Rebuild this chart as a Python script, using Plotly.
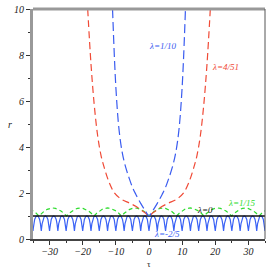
import plotly.graph_objects as go

# ---- data ----
# lambda = 1/10 (blue dashed)
bd_tau = [-11.0, -10.0, -9.0, -8.0, -7.0, -6.0, -5.0, -4.0, -2.5, -1.0, 0.0,
          1.0, 2.5, 4.0, 5.0, 6.0, 7.0, 8.0, 9.0, 10.0, 11.0]
bd_r = [10.0, 6.6, 4.7, 3.7, 3.1, 2.65, 2.25, 1.95, 1.55, 1.2, 1.0,
        1.2, 1.55, 1.95, 2.25, 2.65, 3.1, 3.7, 4.7, 6.6, 10.0]

# lambda = 4/51 (red dashed)
rd_tau = [-18.5, -17.5, -16.5, -15.5, -14.5, -13.5, -12.0, -10.5, -9.0, -8.0, -6.0,
          -5.0, -4.0, -2.5, -1.0, 0.0, 1.0, 2.5, 4.0, 5.0, 6.0, 8.0, 9.0, 10.5,
          12.0, 13.5, 14.5, 15.5, 16.5, 17.5, 18.5]
rd_r = [10.0, 7.6, 5.8, 4.5, 3.65, 3.1, 2.45, 2.02, 1.8, 1.7, 1.57,
        1.5, 1.42, 1.27, 1.12, 1.0, 1.12, 1.27, 1.42, 1.5, 1.57, 1.7, 1.8, 2.02,
        2.45, 3.1, 3.65, 4.5, 5.8, 7.6, 10.0]

# lambda = 1/15 (green dashed): cusps at r=1, arcs up to ~1.35
gr_cusps = [-33.2, -24.9, -16.6, -8.3, 0.0, 8.3, 16.6, 24.9, 33.2]
gr_arc_s = [0.0, 0.1, 0.2, 0.3, 0.4, 0.5, 0.6, 0.7, 0.8, 0.9, 1.0]
gr_arc_r = [1.0, 1.12, 1.22, 1.29, 1.33, 1.35, 1.33, 1.29, 1.22, 1.12, 1.0]

# lambda = -2/5 (blue solid): oscillation between ~0.35 and 1
bs_period = 2.5
bs_starts = [-36.25 + 2.5 * k for k in range(30)]
bs_prof_s = [0.0, 0.15, 0.3, 0.4, 0.46, 0.5, 0.54, 0.6, 0.7, 0.85, 1.0]
bs_prof_r = [1.0, 0.97, 0.85, 0.66, 0.48, 0.35, 0.48, 0.66, 0.85, 0.97, 1.0]

# lambda = 0 (black): r = 1
bk_tau = [-35.0, 35.0]
bk_r = [1.0, 1.0]

x_ticks = [-30, -20, -10, 0, 10, 20, 30]
y_ticks = [0, 2, 4, 6, 8, 10]

# ---- build series ----
gx, gy = [], []
for i in range(len(gr_cusps) - 1):
    a, b = gr_cusps[i], gr_cusps[i + 1]
    for s, r in zip(gr_arc_s, gr_arc_r):
        gx.append(a + (b - a) * s)
        gy.append(r)
for s, r in zip(gr_arc_s, gr_arc_r):
    gx.insert(0, gr_cusps[0] - 8.3 * s)
    gy.insert(0, r)
for s, r in zip(gr_arc_s, gr_arc_r):
    gx.append(gr_cusps[-1] + 8.3 * s)
    gy.append(r)

bx, by = [], []
for st in bs_starts:
    for s, r in zip(bs_prof_s, bs_prof_r):
        bx.append(st + bs_period * s)
        by.append(r)

serif = "Liberation Serif"
fig = go.Figure()
fig.add_trace(go.Scatter(x=bx, y=by, mode="lines",
                         line=dict(color="#3a62f5", width=1.2)))
fig.add_trace(go.Scatter(x=gx, y=gy, mode="lines",
                         line=dict(color="#2edc2e", width=1.2, dash="4px,3px")))
fig.add_trace(go.Scatter(x=bk_tau, y=bk_r, mode="lines",
                         line=dict(color="#111111", width=1.5)))
fig.add_trace(go.Scatter(x=rd_tau, y=rd_r, mode="lines", line_shape="spline",
                         line=dict(color="#f04a36", width=1.2, dash="7px,4px")))
fig.add_trace(go.Scatter(x=bd_tau, y=bd_r, mode="lines", line_shape="spline",
                         line=dict(color="#3a5cf0", width=1.2, dash="9px,4px")))

fnt = dict(family=serif, size=10, style="italic", color="#222")
fig.update_layout(
    width=270, height=270, showlegend=False,
    margin=dict(l=33, r=5, t=9, b=31),
    plot_bgcolor="white", paper_bgcolor="white",
    xaxis=dict(range=[-35, 35], tickvals=x_ticks, ticks="outside", ticklen=4,
               tickcolor="#333", showgrid=False, zeroline=False, automargin=False,
               showline=True, linecolor="#444", linewidth=1.5,
               ticklabelstandoff=-2,
               minor=dict(dtick=5, ticks="outside", ticklen=2, tickcolor="#333"),
               tickfont=fnt),
    yaxis=dict(range=[0, 10], tickvals=y_ticks, ticks="outside", ticklen=4,
               tickcolor="#333", showgrid=False, zeroline=False, automargin=False,
               showline=True, linecolor="#999", linewidth=3,
               minor=dict(dtick=1, ticks="outside", ticklen=2, tickcolor="#333"),
               tickfont=fnt),
)
# top and right frame
fig.add_shape(type="line", xref="paper", yref="paper", x0=0, x1=1, y0=1, y1=1,
              line=dict(color="#999", width=3))
fig.add_shape(type="line", xref="paper", yref="paper", x0=1, x1=1, y0=0, y1=1,
              line=dict(color="#555", width=1))

# axis titles
fig.add_annotation(xref="paper", yref="paper", x=0.5, y=-0.108, yanchor="middle",
                   text="τ", showarrow=False,
                   font=dict(family=serif, size=9, color="#222"))
fig.add_annotation(xref="paper", yref="paper", x=-0.08, y=0.5, xanchor="right",
                   text="r", showarrow=False,
                   font=dict(family=serif, size=10, style="italic", color="#222"))

labels = [
    (4.0, 8.4, "λ=1/10", "#3a5cf0"),
    (23.0, 7.5, "λ=4/51", "#f04a36"),
    (28.0, 1.57, "λ=1/15", "#2edc2e"),
    (17.0, 1.26, "λ=0", "#111111"),
    (5.5, 0.22, "λ=-2/5", "#3a62f5"),
]
for x, y, t, c in labels:
    fig.add_annotation(x=x, y=y, text=t, showarrow=False,
                       font=dict(family=serif, size=9, style="italic", color=c))

fig.write_html("out.html", post_script="document.body.style.margin='0';",
               config={"displayModeBar": False})
